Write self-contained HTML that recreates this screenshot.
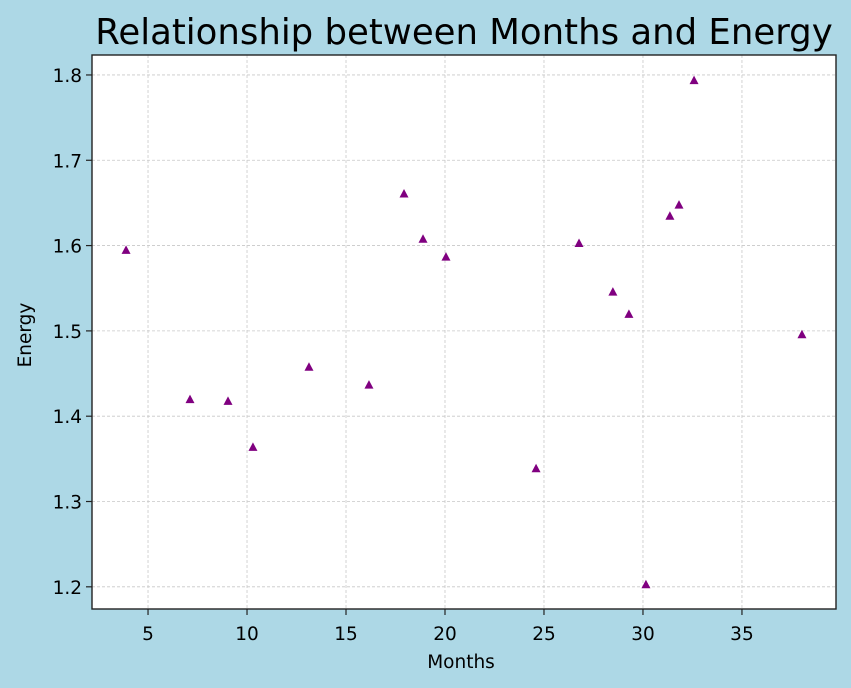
<!DOCTYPE html>
<html><head><meta charset="utf-8">
<style>
body{margin:0;background:#add8e6;}
svg{display:block;font-family:"DejaVu Sans","Liberation Sans",sans-serif;}
</style></head>
<body>
<svg id="chart" width="851" height="688">
<rect width="851" height="688" fill="#add8e6"/>
<text x="464" y="44" font-size="35.5" text-anchor="middle" fill="#000">Relationship between Months and Energy</text>
<rect x="92" y="55" width="744" height="554" fill="#fff"/>
<g id="grid"></g>
<g id="points"></g>
<rect x="92" y="55" width="744" height="554" fill="none" stroke="#222" stroke-width="1.4"/>
<g id="axes"></g>
<text x="461" y="668" font-size="18.5" text-anchor="middle">Months</text>
<text x="31" y="335" font-size="18.5" text-anchor="middle" transform="rotate(-90 31 335)">Energy</text>
</svg>
<script>
const months=[3.89,7.12,9.04,10.30,13.13,16.16,17.93,18.89,20.05,24.6,26.77,28.48,29.29,30.15,31.36,31.82,32.58,38.03];
const energy=[1.595,1.420,1.418,1.364,1.458,1.437,1.661,1.608,1.587,1.339,1.603,1.546,1.520,1.203,1.635,1.648,1.794,1.496];
const xTicks=[5,10,15,20,25,30,35];
const yTicks=[1.2,1.3,1.4,1.5,1.6,1.7,1.8];
const X0=92,X1=836,Y0=55,Y1=609;
const xMin=2.17,xMax=39.75,yMin=1.174,yMax=1.8234;
const sx=v=>X0+(v-xMin)/(xMax-xMin)*(X1-X0);
const sy=v=>Y1-(v-yMin)/(yMax-yMin)*(Y1-Y0);
const NS="http://www.w3.org/2000/svg";
const grid=document.getElementById('grid'),axes=document.getElementById('axes'),pts=document.getElementById('points');
function mk(tag,attrs,parent){const e=document.createElementNS(NS,tag);for(const k in attrs)e.setAttribute(k,attrs[k]);parent.appendChild(e);return e;}
xTicks.forEach(t=>{
  const x=sx(t);
  const g=mk('line',{x1:x,x2:x,y1:Y0,y2:Y1,stroke:'#c8c8c8','stroke-width':0.8,'stroke-dasharray':'3,2'},grid);
  
  
  const tk=mk('line',{x1:x,x2:x,y1:Y1,y2:Y1+6,stroke:'#222','stroke-width':1.2},axes);
  
  
  const lb=mk('text',{x:x,y:Y1+31,'font-size':18.5,'text-anchor':'middle'},axes);
  lb.textContent=t;
  
  
});
yTicks.forEach(t=>{
  const y=sy(t);
  const g=mk('line',{x1:X0,x2:X1,y1:y,y2:y,stroke:'#c8c8c8','stroke-width':0.8,'stroke-dasharray':'3,2'},grid);
  
  
  const tk=mk('line',{x1:X0-6,x2:X0,y1:y,y2:y,stroke:'#222','stroke-width':1.2},axes);
  
  
  const lb=mk('text',{x:X0-10,y:y+7,'font-size':18.5,'text-anchor':'end'},axes);
  lb.textContent=t.toFixed(1);
  
  
});
months.forEach((m,i)=>{
  const x=sx(m),y=sy(energy[i]);
  const p=mk('polygon',{points:`${x},${y-4.5} ${x-4.5},${y+4} ${x+4.5},${y+4}`,fill:'#800080'},pts);
  
  
});
</script>
</body></html>
